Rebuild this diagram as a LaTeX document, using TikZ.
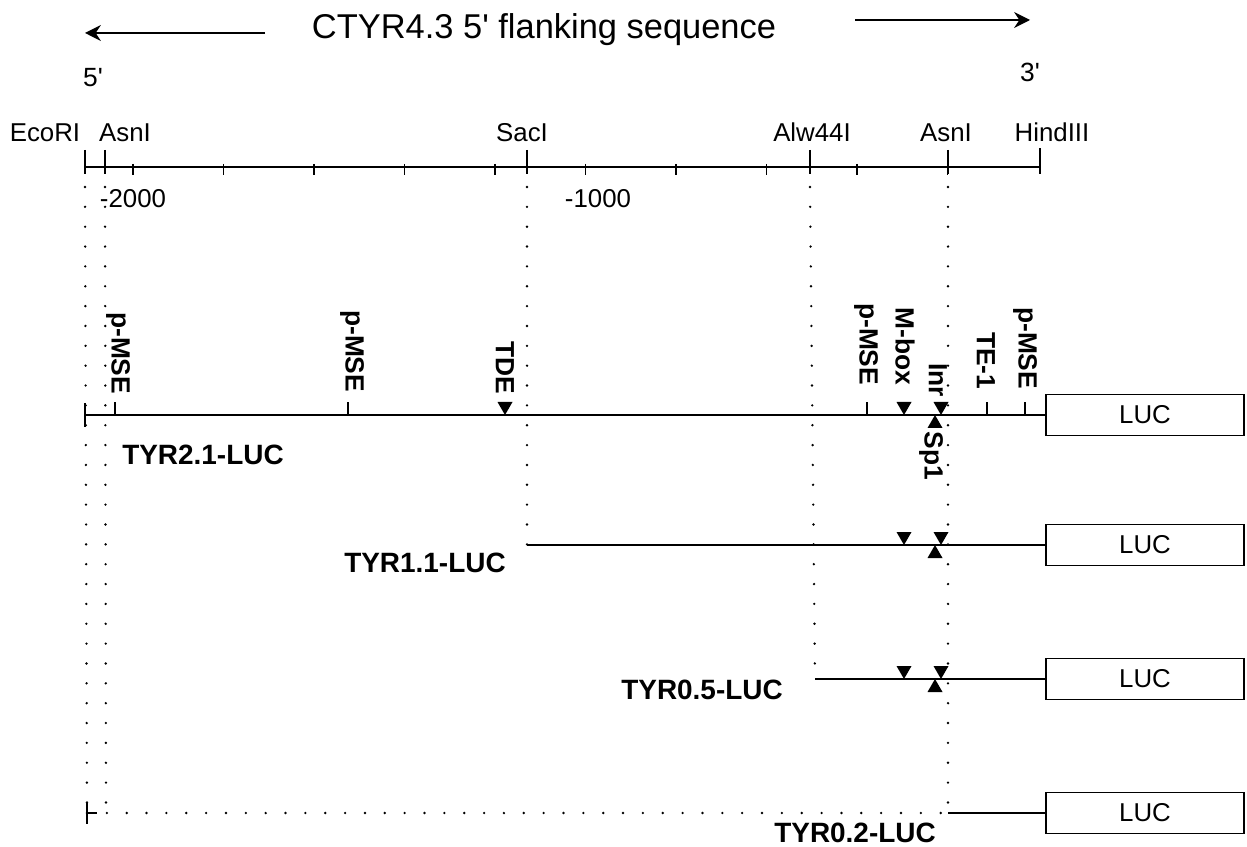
\documentclass[tikz,border=0pt]{standalone}
\usepackage{fontspec}
\setmainfont{Liberation Sans}
\usetikzlibrary{arrows.meta}

\tikzset{
  site/.style={font=\fontsize{14.7}{16}\selectfont, anchor=base, inner sep=0pt},
  elem/.style={font=\bfseries\fontsize{15}{16}\selectfont, rotate=-90, inner sep=0pt},
  construct/.style={font=\bfseries\fontsize{15.9}{17}\selectfont, inner sep=0pt},
  lucbox/.style={draw, line width=0.9pt, minimum width=3.96cm, minimum height=0.82cm,
    inner sep=0pt, font=\fontsize{14.7}{16}\selectfont},
  dotline/.style={line width=1.5pt, line cap=round, dash pattern=on 0pt off 11.3pt},
  dtri/.pic={\fill (-7.5,-13) -- (7.5,-13) -- (0,0) -- cycle;},
  utri/.pic={\fill (-7.5,13) -- (7.5,13) -- (0,0) -- cycle;}
}

\begin{document}
\begin{tikzpicture}[x=0.02cm, y=-0.02cm, line width=1pt]
\useasboundingbox (0,0) rectangle (1247,847);

% title
\node[font=\fontsize{19.6}{21}\selectfont] (title) at (544,30) {CTYR4.3 5\textquotesingle\ flanking sequence};
\coordinate (la1) at (265,33);
\coordinate (la2) at (85,33);
\coordinate (ra1) at (855,20);
\coordinate (ra2) at (1030,20);
\draw[-{Stealth[length=9pt,width=9pt]}] (la1) -- (la2);
\draw[-{Stealth[length=9pt,width=9pt]}] (ra1) -- (ra2);
\node[font=\fontsize{15}{16}\selectfont] (five) at (93,78) {5\textquotesingle};
\node[font=\fontsize{15}{16}\selectfont] (three) at (1030,72) {3\textquotesingle};

% map
\coordinate (eco) at (85,167);
\coordinate (asn1) at (105,167);
\coordinate (sac) at (527,167);
\coordinate (alw) at (810,167);
\coordinate (asn2) at (948,167);
\coordinate (hind) at (1040,167);

\draw[line width=1.1pt] (eco) -- (hind) -- ++(0,-19);
\foreach \k in {0,...,9}
  \draw (133+90.5*\k,164) -- (133+90.5*\k,175);
\foreach \x/\lx/\lab [count=\i] in {85/45/EcoRI, 105/125/AsnI, 527/522/SacI,
    810/812/Alw44I, 948/946/AsnI, 1040/1052/HindIII}
{
  \node[site] (site\i) at (\lx,142) {\lab};
  \draw (\x,150) -- (\x,174);
}
\node[site] (m2000) at (133,208) {-2000};
\node[site] (m1000) at (598,208) {-1000};

% constructs
\coordinate (r1s) at (85,415);
\coordinate (r2s) at (527,545);
\coordinate (r3s) at (815,679);
\coordinate (r4s) at (87,813);
\coordinate (r4a) at (106,805);
\coordinate (r4m) at (948,813);

\node[lucbox] (luc1) at (1145,415) {LUC};
\node[lucbox] (luc2) at (1145,545) {LUC};
\node[lucbox] (luc3) at (1145,679) {LUC};
\node[lucbox] (luc4) at (1145,813) {LUC};

\draw[dotline] (eco) ++(0,20) -- (r4s);
\draw[dotline] (asn1) ++(0,20) -- (r4a);
\draw[dotline] (sac) ++(0,20) -- (r2s);
\draw[dotline] (alw) ++(0,20) -- (r3s);
\draw[dotline] (asn2) ++(0,20) -- (r4m);

\draw[line width=1.3pt] (r1s) -- (luc1.west);
\draw (r1s) ++(0,-12) -- ++(0,24);
\draw (r2s) -- (luc2.west);
\draw (r3s) -- (luc3.west);
\draw (r4s) ++(0,-11) -- ++(0,22);
\draw (r4s) -- ++(10,0);
\draw[dotline] (r4s) -- (r4m);
\draw (r4m) -- (luc4.west);

% elements on TYR2.1-LUC
\foreach \x in {115,348,867,987,1025}
  \draw (\x,415) -- (\x,402);
\pic at (505,415) {dtri};
\foreach \y in {415,545,679}
{
  \pic at (904,\y) {dtri};
  \pic at (941,\y) {dtri};
  \pic at (935,\y) {utri};
}
\node[elem, anchor=east] (pmse1) at (118,395) {p-MSE};
\node[elem, anchor=east] (pmse2) at (352,393) {p-MSE};
\node[elem, anchor=east] (tde) at (505,395) {TDE};
\node[elem, anchor=east] (pmse3) at (866,386) {p-MSE};
\node[elem, anchor=east] (mbox) at (905,386) {M-box};
\node[elem, anchor=east] (inr) at (938,398) {Inr};
\node[elem, anchor=east] (te1) at (986,390) {TE-1};
\node[elem, anchor=east] (pmse4) at (1025,390) {p-MSE};
\node[elem, anchor=west] (sp1) at (931,431) {Sp1};

\node[construct] (tyr21) at (203,455) {TYR2.1-LUC};
\node[construct] (tyr11) at (425,563) {TYR1.1-LUC};
\node[construct] (tyr05) at (702,690) {TYR0.5-LUC};
\node[construct] (tyr02) at (855,833) {TYR0.2-LUC};
\end{tikzpicture}
\end{document}
